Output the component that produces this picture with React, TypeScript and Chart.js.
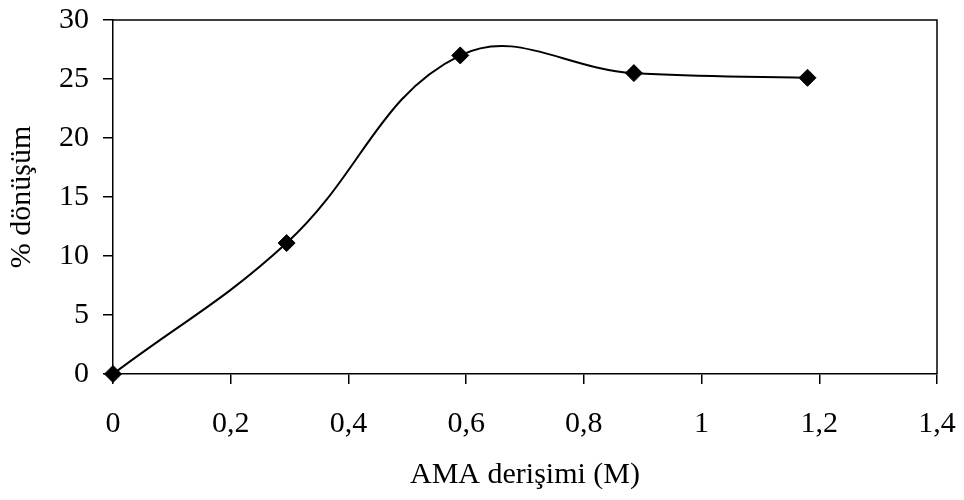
import React, { useEffect, useRef } from "react";
import { Chart, registerables } from "chart.js";

Chart.register(...registerables);

const xValues = [0, 0.295, 0.59, 0.885, 1.18];
const yValues = [0, 11.1, 27.0, 25.5, 25.1];
const xTitle = "AMA derişimi (M)";
const yTitle = "% dönüşüm";

const FONT = "'Liberation Serif', 'Times New Roman', Times, serif";

const framePlugin = {
  id: "frame",
  afterDraw(chart: any) {
    const { ctx, chartArea } = chart;
    ctx.save();
    ctx.strokeStyle = "#000";
    ctx.lineWidth = 1.5;
    ctx.beginPath();
    ctx.moveTo(chartArea.left, chartArea.top);
    ctx.lineTo(chartArea.right, chartArea.top);
    ctx.lineTo(chartArea.right, chartArea.bottom);
    ctx.stroke();
    ctx.restore();
  },
};

export default function App() {
  const ref = useRef<HTMLCanvasElement>(null);
  useEffect(() => {
    if (!ref.current) return;
    const chart = new Chart(ref.current, {
      type: "scatter",
      data: {
        datasets: [
          {
            data: xValues.map((x, i) => ({ x, y: yValues[i] })),
            showLine: true,
            borderColor: "#000",
            borderWidth: 2,
            tension: 0.4,
            pointStyle: "rectRot",
            pointRadius: 8.5,
            pointBackgroundColor: "#000",
            pointBorderColor: "#000",
            pointBorderWidth: 1,
            clip: false,
          },
        ],
      },
      plugins: [framePlugin],
      options: {
        responsive: false,
        animation: false,
        layout: { padding: 0 },
        plugins: { legend: { display: false }, tooltip: { enabled: false } },
        scales: {
          x: {
            type: "linear",
            min: 0,
            max: 1.4,
            afterFit: (s: any) => {
              s.height = 126;
              s.paddingLeft = 0;
              s.paddingRight = 27;
            },
            ticks: {
              stepSize: 0.2,
              autoSkip: false,
              maxRotation: 0,
              color: "#000",
              padding: 22,
              font: { family: FONT, size: 30 },
              callback: (v: any) => String(Number(Number(v).toFixed(1))).replace(".", ","),
            },
            grid: { drawOnChartArea: false, tickLength: 10, color: "#000", lineWidth: 1.5 },
            border: { color: "#000", width: 1.5 },
            title: {
              display: true,
              text: xTitle,
              color: "#000",
              font: { family: FONT, size: 30 },
              padding: { top: 0, bottom: 7 },
            },
          },
          y: {
            min: 0,
            max: 30,
            afterFit: (s: any) => {
              s.width = 113;
              s.paddingTop = 20;
              s.paddingBottom = 0;
            },
            ticks: {
              stepSize: 5,
              color: "#000",
              padding: 14,
              font: { family: FONT, size: 30 },
            },
            grid: { drawOnChartArea: false, tickLength: 10, color: "#000", lineWidth: 1.5 },
            border: { color: "#000", width: 1.5 },
            title: {
              display: true,
              text: yTitle,
              color: "#000",
              font: { family: FONT, size: 30 },
              padding: { top: 4, bottom: 0 },
            },
          },
        },
      },
    });
    return () => chart.destroy();
  }, []);
  return (
    <div style={{ position: "absolute", left: 0, top: 0, width: 964, height: 500, background: "#fff" }}>
      <canvas ref={ref} width={964} height={500} style={{ display: "block" }} />
    </div>
  );
}
